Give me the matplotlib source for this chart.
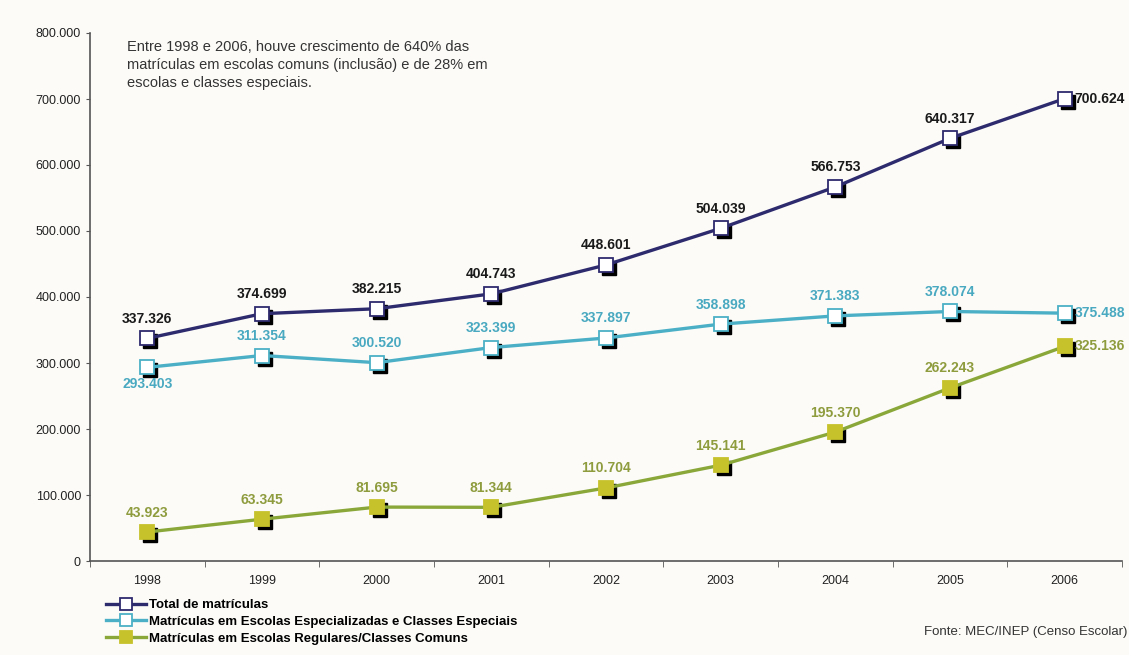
import matplotlib.pyplot as plt
import matplotlib.transforms as mtransforms

years = ["1998", "1999", "2000", "2001", "2002", "2003", "2004", "2005", "2006"]
total = [337326, 374699, 382215, 404743, 448601, 504039, 566753, 640317, 700624]
especiais = [293403, 311354, 300520, 323399, 337897, 358898, 371383, 378074, 375488]
regulares = [43923, 63345, 81695, 81344, 110704, 145141, 195370, 262243, 325136]

# label position per point: "a" above, "b" below, "r" right
pos_total = ["a"] * 8 + ["r"]
pos_esp = ["b"] + ["a"] * 7 + ["r"]
pos_reg = ["a"] * 8 + ["r"]

BG = "#fcfbf8"
NAVY = "#2e2a6e"
CYAN = "#4bb0c6"
CYAN_TXT = "#49a9c0"
OLIVE = "#8aa83a"
OLIVE_FILL = "#c6c22c"
OLIVE_TXT = "#8f9c3e"

plt.rcParams["font.family"] = ["Liberation Sans", "DejaVu Sans"]
NARROW = ["Liberation Sans Narrow", "Liberation Sans", "DejaVu Sans"]


def fmt(v):
    return f"{v:,}".replace(",", ".")


fig = plt.figure(figsize=(11.29, 6.55), dpi=100, facecolor=BG)
ax = fig.add_axes([90 / 1129, 94 / 655, 1032 / 1129, 528 / 655])
ax.set_facecolor(BG)

x = list(range(len(years)))
shadow = mtransforms.offset_copy(ax.transData, fig=fig, x=3, y=-3, units="dots")


def series(vals, line_col, face, edge, txt_col, positions, label, zl):
    # black drop shadow under the markers
    ax.plot(x, vals, ls="none", marker="s", ms=10, mfc="black", mec="black",
            transform=shadow, zorder=zl)
    ax.plot(x, vals, color=line_col, lw=2.4, marker="s", ms=10, mfc=face,
            mec=edge, mew=1.3, label=label, zorder=zl + 1)
    for xi, v, p in zip(x, vals, positions):
        if p == "a":
            ax.annotate(fmt(v), (xi, v), xytext=(0, 9), textcoords="offset points",
                        ha="center", va="bottom", color=txt_col, fontsize=10,
                        fontweight="bold", family=NARROW)
        elif p == "b":
            ax.annotate(fmt(v), (xi, v), xytext=(0, -7), textcoords="offset points",
                        ha="center", va="top", color=txt_col, fontsize=10,
                        fontweight="bold", family=NARROW)
        else:
            ax.annotate(fmt(v), (xi, v), xytext=(7, 0), textcoords="offset points",
                        ha="left", va="center", color=txt_col, fontsize=10,
                        fontweight="bold", family=NARROW)


series(total, NAVY, "white", NAVY, "#1a1a1a", pos_total, "Total de matrículas", 5)
series(especiais, CYAN, "white", CYAN, CYAN_TXT, pos_esp,
       "Matrículas em Escolas Especializadas e Classes Especiais", 3)
series(regulares, OLIVE, OLIVE_FILL, OLIVE_FILL, OLIVE_TXT, pos_reg,
       "Matrículas em Escolas Regulares/Classes Comuns", 1)

ax.set_xlim(-0.5, len(years) - 0.5)
ax.set_ylim(0, 800000)
ax.set_yticks(range(0, 800001, 100000))
ax.set_yticklabels(["0"] + [fmt(v) for v in range(100000, 800001, 100000)])
ax.set_xticks(x)
ax.set_xticklabels(years)
ax.set_xticks([i + 0.5 for i in range(-1, len(years))], minor=True)
ax.tick_params(axis="x", which="major", length=0, pad=10, labelsize=9, colors="#222")
ax.tick_params(axis="x", which="minor", length=4, color="#555", direction="out")
ax.tick_params(axis="y", length=3, color="#555", labelsize=9, colors="#222")
for s in ["top", "right"]:
    ax.spines[s].set_visible(False)
for s in ["left", "bottom"]:
    ax.spines[s].set_color("#555")
    ax.spines[s].set_linewidth(1.2)

ax.text(127 / 1129, 615 / 655,
        "Entre 1998 e 2006, houve crescimento de 640% das\n"
        "matrículas em escolas comuns (inclusão) e de 28% em\n"
        "escolas e classes especiais.",
        transform=fig.transFigure, ha="left", va="top", fontsize=10.5,
        color="#333", linespacing=1.35)

leg = fig.legend(loc="upper left", bbox_to_anchor=(106 / 1129, 56 / 655),
                 frameon=False, handlelength=3.0, handletextpad=0.25,
                 labelspacing=0.35, borderaxespad=0, borderpad=0,
                 prop={"weight": "bold", "size": 9.5})
for h in leg.legend_handles:
    h.set_markersize(8)
    h.set_linewidth(2.4)

fig.text(1127 / 1129, 23 / 655, "Fonte: MEC/INEP (Censo Escolar)", ha="right",
         va="center", fontsize=9.5, color="#333")

fig.savefig("out.png", dpi=100, facecolor=BG)
